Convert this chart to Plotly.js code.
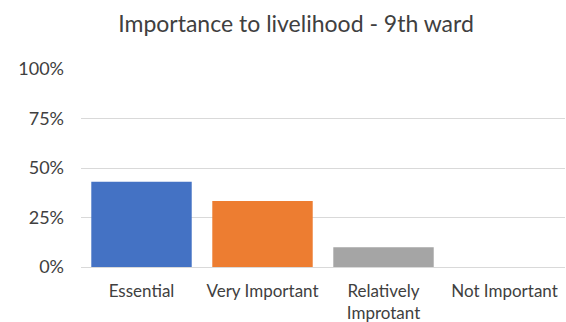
<!DOCTYPE html>
<html>
<head>
<meta charset="utf-8">
<script src="https://cdn.plot.ly/plotly-3.0.1.min.js"></script>
<style>html,body{margin:0;padding:0;background:#fff;}#chart{width:566px;height:322px;}</style>
</head>
<body>
<div id="chart"></div>
<script>
const categories = ["Essential", "Very Important", "Relatively<br>Improtant", "Not Important"];
const values = [0.43, 0.333, 0.10, 0.0];
const barColors = ["#4472C4", "#ED7D31", "#A5A5A5", "#FFC000"];
const tickVals = [0, 0.25, 0.5, 0.75, 1];
const tickText = ["0%", "25%", "50%", "75%", "100%"];

const font = "Lato, 'Open Sans', sans-serif";
Plotly.newPlot("chart", [{
  type: "bar",
  x: categories,
  y: values,
  marker: {color: barColors, line: {width: 0}},
  hoverinfo: "none"
}], {
  width: 566, height: 322,
  margin: {l: 81, r: 1, t: 69, b: 55},
  paper_bgcolor: "#fff", plot_bgcolor: "#fff",
  bargap: 0.17,
  showlegend: false,
  title: {text: "Importance to livelihood - 9th ward", x: 0.523, xanchor: "center", y: 0.925, yanchor: "middle",
          font: {family: font, size: 23, color: "#404040"}},
  xaxis: {tickfont: {family: font, size: 17, color: "#404040"}, showline: false, ticks: "", fixedrange: true,
          ticklabelstandoff: 12},
  yaxis: {range: [0, 1], tickvals: tickVals, ticktext: tickText, gridcolor: "#d9d9d9", gridwidth: 1,
          zeroline: true, zerolinecolor: "#d9d9d9", zerolinewidth: 1,
          tickfont: {family: font, size: 18, color: "#404040"}, ticks: "", ticklen: 0, showline: false, fixedrange: true,
          ticklabelstandoff: 16}
}, {displayModeBar: false, staticPlot: true});
</script>
</body>
</html>
